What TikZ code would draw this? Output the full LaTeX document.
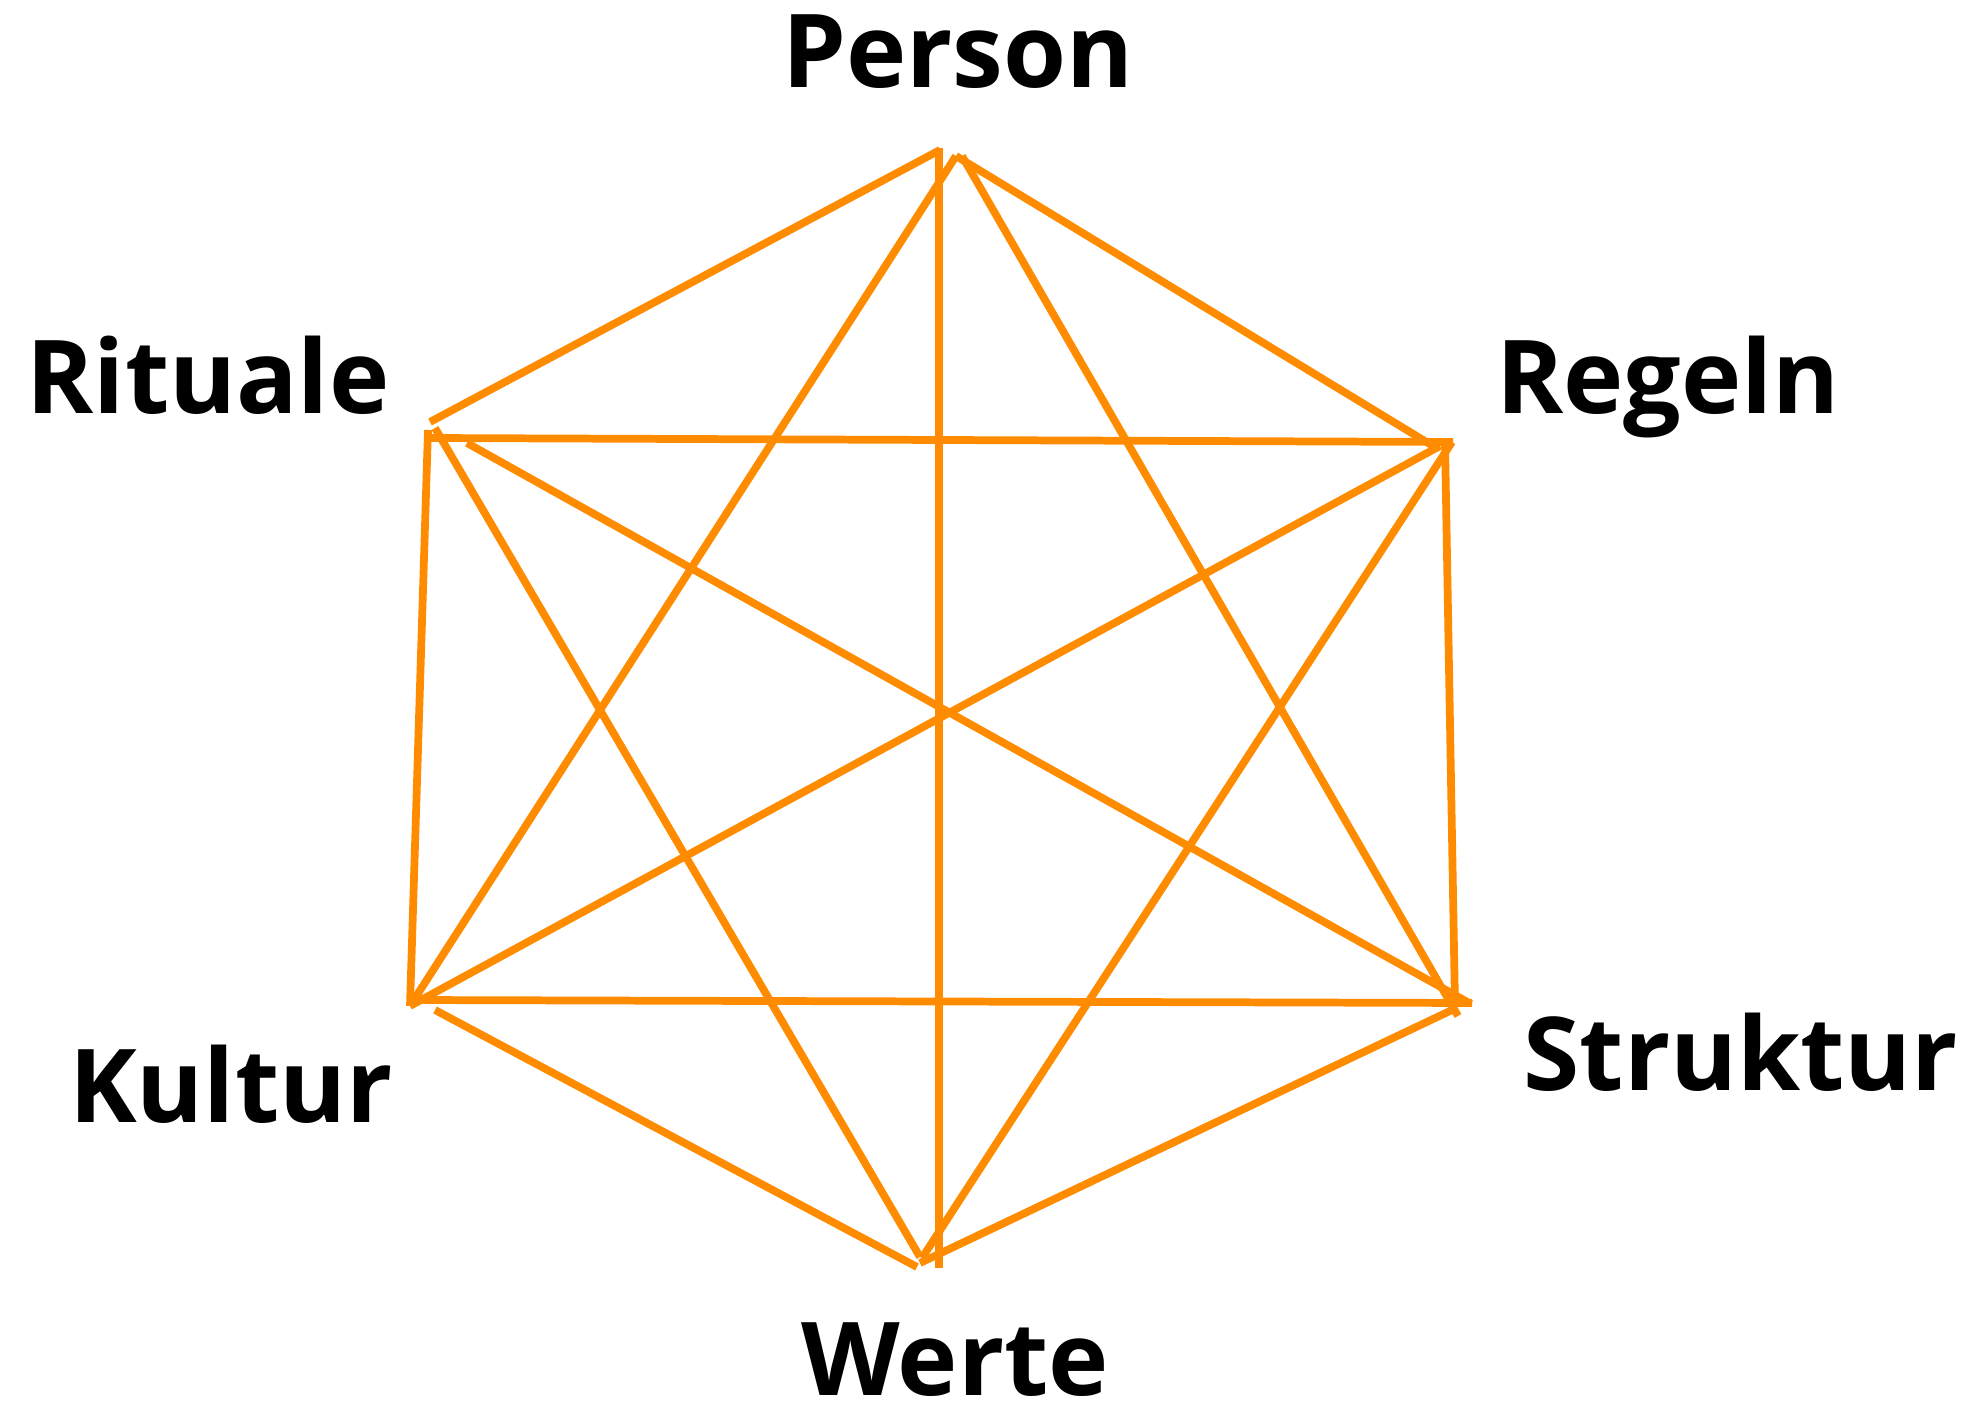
\documentclass[tikz,border=0pt]{standalone}
\usepackage{fontspec}
\setmainfont{Open Sans}
\definecolor{lineorange}{RGB}{255,140,0}
\begin{document}
\begin{tikzpicture}[x=0.01cm,y=-0.01cm,
  edge/.style={draw=lineorange, line width=2.2pt},
  lbl/.style={font=\fontsize{29}{34}\selectfont\bfseries, anchor=base, inner sep=0pt, text depth=0pt}]
\useasboundingbox (0,0) rectangle (1971,1416);
% vertex coordinates
\coordinate (Pa) at (940,150);
\coordinate (Pb) at (956,156);
\coordinate (Pc) at (962,156);
\coordinate (Pv) at (939,148);
\coordinate (Ra) at (430,422);
\coordinate (Rh) at (428,438);
\coordinate (Rv) at (428,430);
\coordinate (Rd) at (435,428);
\coordinate (Rs) at (467,443);
\coordinate (Ga) at (1433,446);
\coordinate (Gh) at (1453,442);
\coordinate (Gd) at (1440,446);
\coordinate (Gw) at (1452,442);
\coordinate (Gv) at (1445,442);
\coordinate (Ka) at (410,1006);
\coordinate (Kh) at (408,1000);
\coordinate (Kw) at (435,1010);
\coordinate (Sa) at (1458,1016);
\coordinate (Sr) at (1471,1004);
\coordinate (Sv) at (1455,1005);
\coordinate (Sh) at (1472,1003);
\coordinate (Sw) at (1452,1010);
\coordinate (Wv) at (939,1268);
\coordinate (Wr) at (920,1257);
\coordinate (Wg) at (922,1258);
\coordinate (Wk) at (917,1267);
\coordinate (Ws) at (920,1263);
% lines
\draw[edge] (Pa) -- (Ra);
\draw[edge] (Pb) -- (Ga);
\draw[edge] (Pv) -- (Wv);
\draw[edge] (Pb) -- (Ka);
\draw[edge] (Pc) -- (Sa);
\draw[edge] (Rh) -- (Gh);
\draw[edge] (Rv) -- (Ka);
\draw[edge] (Rd) -- (Wr);
\draw[edge] (Rs) -- (Sr);
\draw[edge] (Gd) -- (Ka);
\draw[edge] (Gw) -- (Wg);
\draw[edge] (Gv) -- (Sv);
\draw[edge] (Kh) -- (Sh);
\draw[edge] (Kw) -- (Wk);
\draw[edge] (Sw) -- (Ws);
% labels
\node[lbl] (person) at (958,88) {Person};
\node[lbl] (rituale) at (208,414) {Rituale};
\node[lbl] (regeln) at (1668,414) {Regeln};
\node[lbl] (kultur) at (231,1123) {Kultur};
\node[lbl] (struktur) at (1741,1091) {Struktur};
\node[lbl] (werte) at (955,1396) {Werte};
\end{tikzpicture}
\end{document}
